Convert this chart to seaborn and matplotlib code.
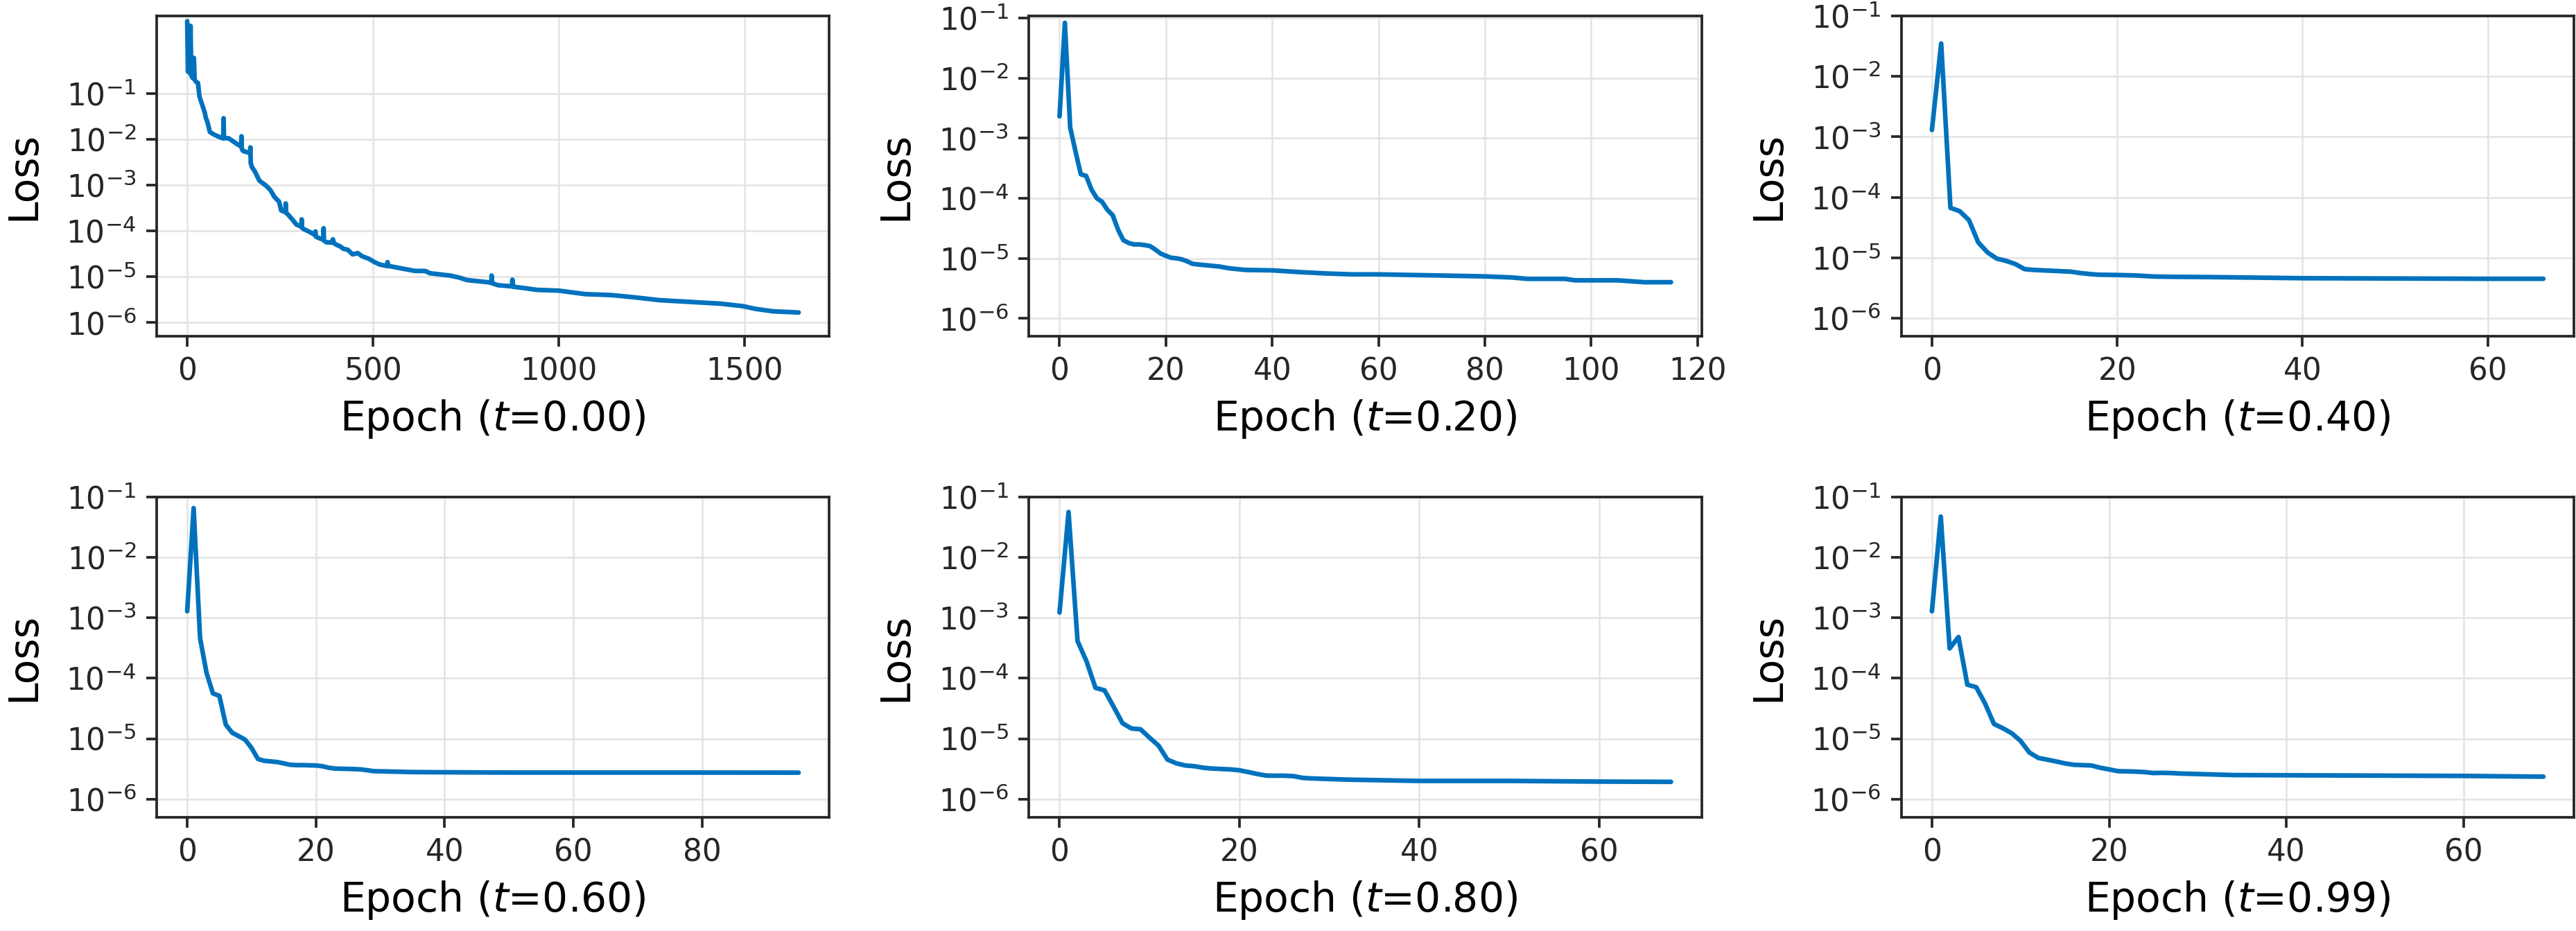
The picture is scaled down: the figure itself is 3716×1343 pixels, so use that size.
import numpy as np
import pandas as pd
import seaborn as sns
import matplotlib.pyplot as plt
from matplotlib.ticker import FixedLocator, NullLocator, LogFormatterSciNotation

# valores: (epoca, loss) por cada tiempo t
t_labels = ["0.00", "0.20", "0.40", "0.60", "0.80", "0.99"]

epoch_t000 = [0, 2, 5, 7, 9, 11, 14, 18, 20, 24, 29, 33, 38, 47, 50, 55, 61, 71, 82, 94, 97, 98, 99,
              102, 112, 124, 135, 145, 146, 147, 150, 159, 169, 170, 171, 174, 182, 194, 212, 224, 235,
              247, 253, 264, 265, 266, 271, 282, 294, 307, 308, 309, 312, 329, 344, 345, 346, 351, 366,
              367, 368, 374, 388, 392, 395, 400, 412, 420, 432, 445, 459, 471, 488, 504, 518, 538, 539,
              540, 547, 582, 612, 641, 653, 706, 729, 753, 812, 818, 819, 820, 835, 873, 875, 877, 906,
              941, 1000, 1071, 1141, 1200, 1271, 1353, 1435, 1494, 1529, 1576, 1645]
loss_t000 = [3.8, 0.3, 2.5, 0.28, 3.0, 0.25, 0.22, 0.6, 0.2, 0.18, 0.17, 0.087, 0.065, 0.039, 0.030,
             0.023, 0.0145, 0.0129, 0.0117, 0.0107, 0.0106, 0.029, 0.0106, 0.0107, 0.0105, 0.0090,
             0.0078, 0.0070, 0.0117, 0.0062, 0.0056, 0.0053, 0.0050, 0.0067, 0.0030, 0.0025, 0.0020,
             0.00126, 0.00098, 0.00078, 0.00055, 0.00044, 0.00028, 0.00026, 0.00040, 0.00025, 0.00023,
             0.000182, 0.000138, 0.000125, 0.00018, 0.000118, 0.000112, 9.6e-5, 8.2e-5, 9.8e-5, 7.6e-5,
             7.2e-5, 6.5e-5, 1.15e-4, 6.2e-5, 5.7e-5, 5.6e-5, 6.6e-5, 5.4e-5, 5.1e-5, 4.6e-5, 4.1e-5,
             3.9e-5, 3.1e-5, 3.3e-5, 2.8e-5, 2.5e-5, 2.1e-5, 1.86e-5, 1.72e-5, 2.1e-5, 1.72e-5, 1.7e-5,
             1.5e-5, 1.35e-5, 1.34e-5, 1.2e-5, 1.07e-5, 9.8e-6, 8.5e-6, 7.6e-6, 7.4e-6, 1.07e-5, 7.3e-6,
             6.6e-6, 6.2e-6, 8.7e-6, 6.1e-6, 5.7e-6, 5.2e-6, 5.0e-6, 4.2e-6, 4.0e-6, 3.6e-6, 3.1e-6,
             2.84e-6, 2.6e-6, 2.3e-6, 2.0e-6, 1.77e-6, 1.67e-6]

epoch_t020 = [0, 1, 2, 3, 4, 5, 6, 7, 8, 9, 10, 11, 12, 13, 14, 15, 16, 17, 18, 19, 20, 21, 22, 23, 24,
              25, 26, 30, 32, 35, 40, 45, 50, 55, 60, 70, 80, 85, 88, 95, 97, 105, 110, 115]
loss_t020 = [2.3e-3, 8.3e-2, 1.5e-3, 6.0e-4, 2.5e-4, 2.35e-4, 1.4e-4, 1.0e-4, 8.7e-5, 6.4e-5, 5.2e-5,
             3.0e-5, 2.0e-5, 1.8e-5, 1.7e-5, 1.7e-5, 1.66e-5, 1.6e-5, 1.4e-5, 1.2e-5, 1.1e-5, 1.02e-5,
             1.0e-5, 9.6e-6, 8.9e-6, 8.1e-6, 7.9e-6, 7.3e-6, 6.8e-6, 6.4e-6, 6.3e-6, 5.9e-6, 5.6e-6,
             5.4e-6, 5.4e-6, 5.2e-6, 5.0e-6, 4.8e-6, 4.55e-6, 4.55e-6, 4.3e-6, 4.3e-6, 4.0e-6, 4.0e-6]

epoch_t040 = [0, 1, 2, 3, 4, 5, 6, 7, 8, 9, 10, 11, 12, 13, 14, 15, 16, 17, 18, 20, 22, 24, 26, 30, 40,
              50, 60, 66]
loss_t040 = [1.3e-3, 3.5e-2, 6.7e-5, 5.9e-5, 4.2e-5, 1.8e-5, 1.23e-5, 9.7e-6, 8.9e-6, 7.9e-6, 6.5e-6,
             6.3e-6, 6.2e-6, 6.1e-6, 6.0e-6, 5.9e-6, 5.6e-6, 5.4e-6, 5.25e-6, 5.2e-6, 5.1e-6, 4.9e-6,
             4.85e-6, 4.8e-6, 4.6e-6, 4.55e-6, 4.5e-6, 4.5e-6]

epoch_t060 = [0, 1, 2, 3, 4, 5, 6, 7, 8, 9, 10, 11, 12, 13, 14, 15, 16, 17, 18, 19, 20, 21, 22, 23, 24,
              25, 26, 27, 28, 29, 30, 32, 35, 40, 50, 60, 80, 95]
loss_t060 = [1.28e-3, 6.5e-2, 4.6e-4, 1.23e-4, 5.6e-5, 5.1e-5, 1.7e-5, 1.25e-5, 1.1e-5, 9.6e-6, 7.0e-6,
             4.6e-6, 4.3e-6, 4.2e-6, 4.1e-6, 3.9e-6, 3.7e-6, 3.65e-6, 3.65e-6, 3.62e-6, 3.6e-6, 3.5e-6,
             3.3e-6, 3.2e-6, 3.18e-6, 3.16e-6, 3.14e-6, 3.1e-6, 3.0e-6, 2.9e-6, 2.88e-6, 2.85e-6,
             2.8e-6, 2.78e-6, 2.75e-6, 2.75e-6, 2.75e-6, 2.74e-6]

epoch_t080 = [0, 1, 2, 3, 4, 5, 6, 7, 8, 9, 10, 11, 12, 13, 14, 15, 16, 17, 18, 19, 20, 21, 22, 23, 24,
              25, 26, 27, 28, 30, 32, 40, 50, 60, 68]
loss_t080 = [1.22e-3, 5.6e-2, 4.1e-4, 1.9e-4, 6.9e-5, 6.3e-5, 3.4e-5, 1.8e-5, 1.47e-5, 1.43e-5, 1.04e-5,
             7.7e-6, 4.5e-6, 3.9e-6, 3.6e-6, 3.5e-6, 3.3e-6, 3.2e-6, 3.15e-6, 3.1e-6, 3.0e-6, 2.8e-6,
             2.6e-6, 2.45e-6, 2.44e-6, 2.44e-6, 2.4e-6, 2.25e-6, 2.2e-6, 2.15e-6, 2.1e-6, 2.0e-6,
             2.0e-6, 1.95e-6, 1.93e-6]

epoch_t099 = [0, 1, 2, 3, 4, 5, 6, 7, 8, 9, 10, 11, 12, 13, 14, 15, 16, 17, 18, 19, 20, 21, 22, 23, 24,
              25, 26, 27, 28, 30, 34, 40, 50, 60, 69]
loss_t099 = [1.28e-3, 4.7e-2, 3.1e-4, 4.8e-4, 7.8e-5, 7.1e-5, 3.8e-5, 1.75e-5, 1.49e-5, 1.23e-5, 9.2e-6,
             5.9e-6, 4.8e-6, 4.5e-6, 4.2e-6, 3.9e-6, 3.7e-6, 3.65e-6, 3.6e-6, 3.3e-6, 3.1e-6, 2.9e-6,
             2.88e-6, 2.85e-6, 2.8e-6, 2.7e-6, 2.72e-6, 2.7e-6, 2.65e-6, 2.6e-6, 2.5e-6, 2.48e-6,
             2.45e-6, 2.42e-6, 2.35e-6]

y_ticks = [1e-6, 1e-5, 1e-4, 1e-3, 1e-2, 1e-1]

series = [
    (epoch_t000, loss_t000),
    (epoch_t020, loss_t020),
    (epoch_t040, loss_t040),
    (epoch_t060, loss_t060),
    (epoch_t080, loss_t080),
    (epoch_t099, loss_t099),
]

sns.set_style("ticks")
plt.rcParams["font.family"] = ["DejaVu Sans"]
plt.rcParams["axes.edgecolor"] = "#262626"
plt.rcParams["axes.linewidth"] = 0.9
plt.rcParams["xtick.color"] = "#262626"
plt.rcParams["ytick.color"] = "#262626"

fig, axes = plt.subplots(2, 3, figsize=(3716 / 300, 1343 / 300), dpi=300)
fig.subplots_adjust(left=0.0608, right=0.9992, bottom=0.1221, top=0.9829, wspace=0.297, hspace=0.50)

for ax, (ep, loss), tl in zip(axes.flat, series, t_labels):
    df = pd.DataFrame({"epoch": ep, "loss": loss})
    sns.lineplot(data=df, x="epoch", y="loss", ax=ax, color="#0072BD", lw=1.6)
    ax.set_yscale("log")
    ax.set_ylim(5e-7, max(1e-1, max(loss) * 1.3))
    ax.yaxis.set_major_locator(FixedLocator(y_ticks))
    ax.yaxis.set_major_formatter(LogFormatterSciNotation())
    ax.yaxis.set_minor_locator(NullLocator())
    ax.grid(True, color="#e3e3e3", lw=0.6)
    ax.tick_params(labelsize=10.5, length=3.5, width=0.9)
    ax.set_xlabel(f"Epoch ($t$={tl})", fontsize=14, color="black")
    ax.set_ylabel("Loss", fontsize=14, color="black", labelpad=8)

fig.savefig("out.png", dpi=300)
